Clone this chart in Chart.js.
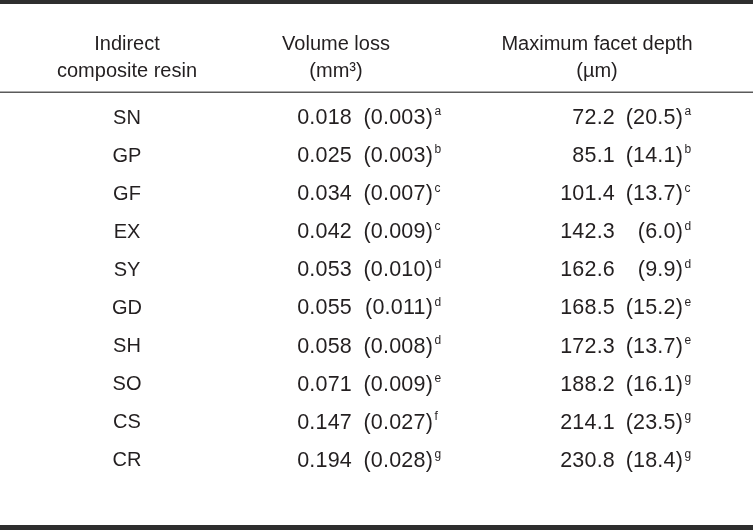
<!DOCTYPE html>
<html>
<head>
<meta charset="utf-8">
<script src="https://cdn.jsdelivr.net/npm/chart.js@4/dist/chart.umd.min.js"></script>
<style>
  body { margin: 0; background: #fff; }
  #tabla { display: block; }
</style>
</head>
<body>
<canvas id="tabla" width="753" height="530"></canvas>
<script>
const resins = ["SN", "GP", "GF", "EX", "SY", "GD", "SH", "SO", "CS", "CR"];

const volMean = [0.018, 0.025, 0.034, 0.042, 0.053, 0.055, 0.058, 0.071, 0.147, 0.194];
const volSD = [0.003, 0.003, 0.007, 0.009, 0.010, 0.011, 0.008, 0.009, 0.027, 0.028];
const volGroup = ["a", "b", "c", "c", "d", "d", "d", "e", "f", "g"];

const depthMean = [72.2, 85.1, 101.4, 142.3, 162.6, 168.5, 172.3, 188.2, 214.1, 230.8];
const depthSD = [20.5, 14.1, 13.7, 6.0, 9.9, 15.2, 13.7, 16.1, 23.5, 18.4];
const depthGroup = ["a", "b", "c", "d", "d", "e", "e", "g", "g", "g"];

const headers = [
    ["Indirect", "composite resin"],
    ["Volume loss", "(mm³)"],
    ["Maximum facet depth", "(µm)"]
];

const fuente = "'Liberation Sans', Arial, sans-serif";
const tinta = "#231f20";

// columnas: centro del encabezado, borde derecho de la media y del DE
const columnas = [
    { centro: 127 },
    { centro: 336, media: 352, de: 433, mean: volMean, sd: volSD, grp: volGroup, dec: 3 },
    { centro: 597, media: 615, de: 683, mean: depthMean, sd: depthSD, grp: depthGroup, dec: 1 }
];

const tablaPlugin = {
    id: "tabla",
    beforeDraw(chart) {
        const ctx = chart.ctx;
        const w = chart.width;
        ctx.save();
        ctx.fillStyle = "#fff";
        ctx.fillRect(0, 0, w, chart.height);

        // reglas horizontales
        ctx.fillStyle = "#2e2e2e";
        ctx.fillRect(0, 0, w, 4);
        ctx.fillRect(0, 525, w, 5);
        ctx.fillStyle = "#5a5a5a";
        ctx.fillRect(0, 91.5, w, 1.5);

        // encabezados
        ctx.fillStyle = tinta;
        ctx.font = "20px " + fuente;
        ctx.textAlign = "center";
        ctx.textBaseline = "middle";
        headers.forEach((h, i) => {
            ctx.fillText(h[0], columnas[i].centro, 44);
            ctx.fillText(h[1], columnas[i].centro, 71);
        });
        ctx.restore();
    },
    afterDraw(chart) {
        const ctx = chart.ctx;
        const y = chart.scales.y;
        ctx.save();
        ctx.fillStyle = tinta;
        ctx.textBaseline = "middle";
        resins.forEach((r, i) => {
            const py = y.getPixelForValue(i);
            columnas.slice(1).forEach(c => {
                ctx.font = "21.5px " + fuente;
                ctx.letterSpacing = "0.2px";
                ctx.textAlign = "right";
                ctx.fillText(c.mean[i].toFixed(c.dec), c.media, py);
                ctx.fillText("(" + c.sd[i].toFixed(c.dec) + ")", c.de, py);
                ctx.font = "12px " + fuente;
                ctx.letterSpacing = "0px";
                ctx.textAlign = "left";
                ctx.fillText(c.grp[i], c.de + 1.5, py - 6);
            });
        });
        ctx.restore();
    }
};

const config = {
    type: "scatter",
    data: {
        labels: resins,
        datasets: [
            {
                label: "Volume loss (mm³)",
                data: resins.map((r, i) => ({ x: volMean[i], y: r })),
                pointRadius: 0
            },
            {
                label: "Maximum facet depth (µm)",
                data: resins.map((r, i) => ({ x: depthMean[i] / 1000, y: r })),
                pointRadius: 0
            }
        ]
    },
    options: {
        responsive: false,
        animation: false,
        devicePixelRatio: 1,
        layout: { padding: { top: 99, bottom: 50, left: 0, right: 0 } },
        plugins: {
            legend: { display: false },
            tooltip: { enabled: false }
        },
        scales: {
            x: { type: "linear", display: false },
            y: {
                type: "category",
                labels: resins,
                offset: true,
                grid: { display: false, drawTicks: false },
                border: { display: false },
                ticks: {
                    autoSkip: false,
                    crossAlign: "center",
                    padding: 0,
                    color: tinta,
                    font: { family: fuente, size: 20 }
                },
                afterFit(scale) {
                    scale.width = 142;
                }
            }
        }
    },
    plugins: [tablaPlugin]
};

new Chart(document.getElementById("tabla"), config);
</script>
</body>
</html>
